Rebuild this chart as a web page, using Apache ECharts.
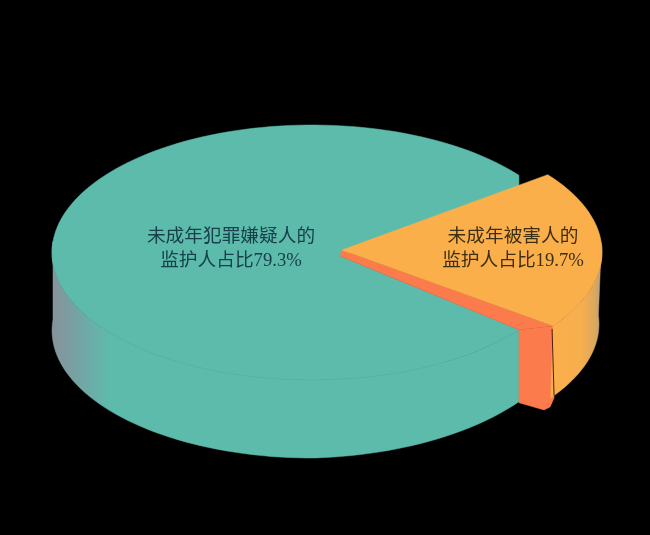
<!DOCTYPE html>
<html><head><meta charset="utf-8">
<style>html,body{margin:0;padding:0;background:#000}#c{width:650px;height:535px}</style>
<script src="https://cdn.jsdelivr.net/npm/echarts@6/dist/echarts.min.js"></script>
</head><body><div id="c"></div>
<script>
// data
const names = ['未成年犯罪嫌疑人的监护人', '其他', '未成年被害人的监护人'];
const values = [79.3, 1.0, 19.7];
const labelHead = ['未成年犯罪嫌疑人的', '', '未成年被害人的'];
const labelTail = ['监护人占比', '', '监护人占比'];
const colors = ['#5DBBAC', '#FB7B4C', '#FBAF4B'];

// layout (pseudo-3D pie: ellipses, one per slice, as the slices are pulled apart)
const shapes = [
  {cx:312, cy:252.5, rx:260, ry:127.5, mid:180, stretch:1, depth:78, ax:340, ay:256, lx:231, ly:249},
  null,
  {cx:349, cy:252, rx:253, ry:125, mid:-1, stretch:1.05, depth:72, ax:342, ay:250, lx:513, ly:249}
];
const wallShade = {
  0: [[0,'#85949a'],[0.03,'#7e9ba0'],[0.07,'#6fa8a6'],[0.125,'#5DBBAC'],[1,'#5DBBAC']],
  2: [[0,'#FBAF4B'],[0.6,'#F7AE4D'],[0.85,'#DCA85E'],[1,'#AFA184']]
};
const rad = d => d * Math.PI / 180;
function ell(s, t, dy) {
  return [s.cx + Math.cos(rad(t)) * s.rx, s.cy + Math.sin(rad(t)) * s.ry + (dy || 0)];
}
function arc(s, a, b, dy) {
  const out = [], n = Math.max(2, Math.ceil(Math.abs(b - a) / 2));
  for (let i = 0; i <= n; i++) {
    const t = a + (b - a) * i / n;
    out.push(ell(s, t, typeof dy === 'function' ? dy(t) : dy));
  }
  return out;
}
function ends(i) {
  const s = shapes[i], sw = values[i] * 3.6 * s.stretch;
  return [s.mid - sw / 2, s.mid + sw / 2];
}
function shade(stops) {
  return {type:'linear', x:0, y:0, x2:1, y2:0, colorStops: stops.map(p => ({offset:p[0], color:p[1]}))};
}
function poly(points, fill) {
  return {type:'polygon', shape:{points}, style:{fill, stroke:fill, lineWidth:0.5}};
}
function text(s, head, tail, color) {
  const font = '18.7px "Liberation Serif","Noto Sans CJK SC"';
  return [
    {type:'text', z2:10, style:{text:head, x:s.lx, y:s.ly-12, fill:color, align:'center', verticalAlign:'middle', font}},
    {type:'text', z2:10, style:{text:tail, x:s.lx, y:s.ly+12, fill:color, align:'center', verticalAlign:'middle', font}}
  ];
}
function renderItem(params, api) {
  const i = params.dataIndex, v = api.value(0), kids = [];
  if (i === 1) {
    const T = shapes[0], O = shapes[2];
    const a = ell(T, ends(0)[0]), b = ell(O, ends(2)[1]);
    kids.push(poly([a, b, [b[0] + 1, b[1] + 72], [b[0] - 3, b[1] + 81], [b[0] - 9, b[1] + 84], [a[0], a[1] + 73]], colors[1]));
    kids.push(poly([[T.ax, T.ay], a, b, [O.ax, O.ay]], colors[1]));
  } else {
    const s = shapes[i], [a, b] = ends(i);
    if (i === 0) {
      const drop = t => s.depth - (t < 90 ? (90 - t) / (90 - a) * 6 : 0);
      const top = arc(s, 185, a), bot = arc(s, a, 185, drop);
      kids.push(poly(top.concat(bot), shade(wallShade[0])));
      const rim = arc(s, a, b), last = rim[rim.length - 1];
      kids.push(poly([[s.ax, s.ay]].concat(rim, [[last[0], last[1] + 30]]), colors[0]));
      kids.push({type:'polyline', shape:{points:arc(s, 150, 60)}, style:{fill:null, stroke:'#59B5A7', lineWidth:1}});
      kids.push.apply(kids, text(s, labelHead[i], labelTail[i] + v + '%', '#17404A'));
    } else {
      const inner = Object.assign({}, s, {rx: s.rx - 3});
      const top = arc(s, b, -4), bot = arc(inner, -4, b, s.depth);
      kids.push(poly(top.concat(bot), shade(wallShade[2])));
      kids.push(poly([[s.ax, s.ay]].concat(arc(s, a, b)), colors[2]));
      const p = ell(s, b);
      kids.push({type:'line', shape:{x1:p[0] - 1, y1:p[1] + 3, x2:p[0] + 1, y2:p[1] + s.depth - 2}, style:{stroke:'#4a1e10', lineWidth:1}});
      kids.push.apply(kids, text(s, labelHead[i], labelTail[i] + v + '%', '#3D2F14'));
    }
  }
  return {type:'group', children:kids};
}
const chart = echarts.init(document.getElementById('c'), null, {renderer:'canvas'});
chart.setOption({
  backgroundColor:'#000',
  animation:false,
  series:[{
    type:'custom',
    coordinateSystem:'none',
    renderItem,
    data: names.map((n, i) => ({name:n, value:[values[i]]}))
  }]
});
</script></body></html>
